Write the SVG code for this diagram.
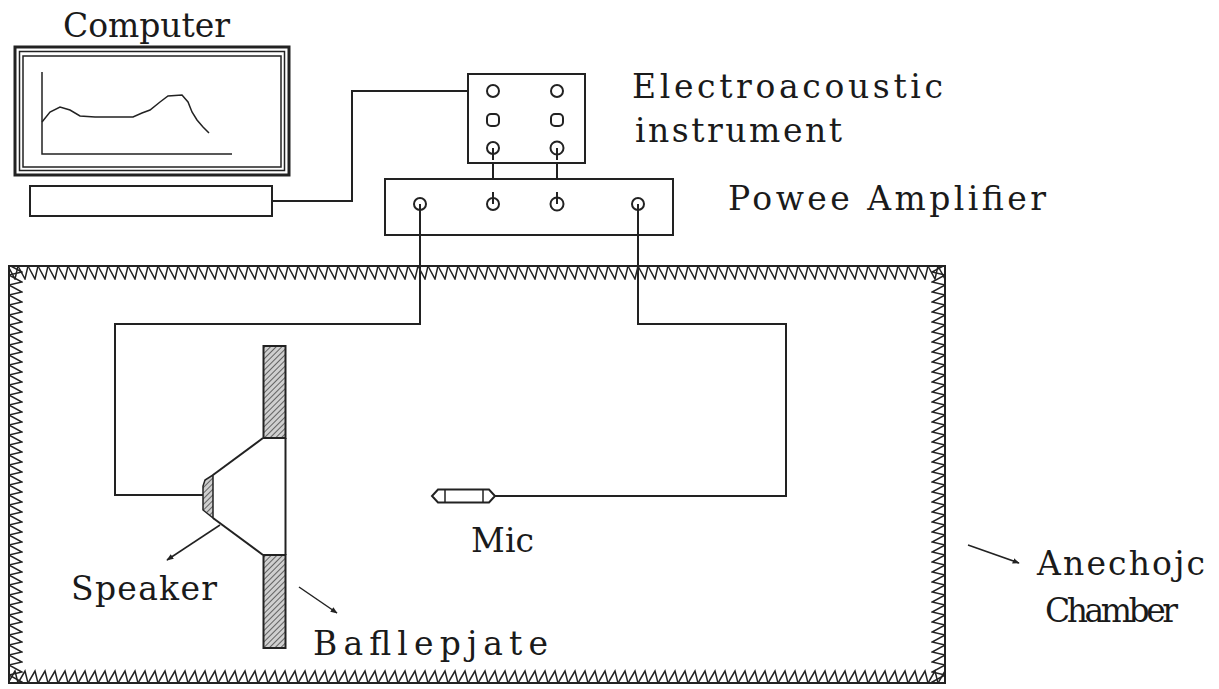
<svg xmlns="http://www.w3.org/2000/svg" width="1219" height="689" viewBox="0 0 1219 689">
<style>
.ln{fill:none;stroke:#222;stroke-width:2}
.thin{fill:none;stroke:#222;stroke-width:1.5}
.box{fill:#fff;stroke:#222;stroke-width:2}
.sock{fill:#fff;stroke:#222;stroke-width:2}
.txt{font-family:"DejaVu Serif","Liberation Serif",serif;font-size:33px;fill:#1a1a1a}
.hatch{fill:url(#hatch);stroke:#222;stroke-width:2}
</style>
<defs>
<pattern id="hatch" patternUnits="userSpaceOnUse" width="4" height="4" patternTransform="rotate(45)">
<rect width="4" height="4" fill="#cfcfcf"/>
<line x1="0" y1="0" x2="0" y2="4" stroke="#333" stroke-width="1.4"/>
</pattern>
<pattern id="tTop" patternUnits="userSpaceOnUse" x="8" y="265" width="10" height="15">
<path d="M0,1 L7,14 L10,1" fill="none" stroke="#222" stroke-width="1.5"/>
</pattern>
<pattern id="tBot" patternUnits="userSpaceOnUse" x="8" y="669" width="10" height="15">
<path d="M0,14 L7,2 L10,14" fill="none" stroke="#222" stroke-width="1.5"/>
</pattern>
<pattern id="tLeft" patternUnits="userSpaceOnUse" x="8" y="265" width="15" height="10">
<path d="M1,0 L14,7 L1,10" fill="none" stroke="#222" stroke-width="1.5"/>
</pattern>
<pattern id="tRight" patternUnits="userSpaceOnUse" x="931" y="265" width="15" height="10">
<path d="M14,0 L1,7 L14,10" fill="none" stroke="#222" stroke-width="1.5"/>
</pattern>
<marker id="arr" viewBox="0 0 10 10" refX="9" refY="5" markerWidth="7" markerHeight="7" orient="auto" markerUnits="userSpaceOnUse">
<path d="M0,1 L10,5 L0,9 Z" fill="#222"/>
</marker>
</defs>
<rect width="1219" height="689" fill="#fff"/>

<g id="chamber">
<rect x="8" y="265" width="937" height="15" fill="url(#tTop)"/>
<rect x="8" y="669" width="937" height="15" fill="url(#tBot)"/>
<rect x="8" y="265" width="15" height="419" fill="url(#tLeft)"/>
<rect x="931" y="265" width="15" height="419" fill="url(#tRight)"/>
<rect x="9" y="266" width="936" height="417" class="ln"/>
</g>

<g id="connectors">
<polyline class="ln" points="272,201 352,201 352,91 493,91"/>
<line class="ln" x1="493" y1="148" x2="493" y2="204"/>
<line class="ln" x1="557" y1="148" x2="557" y2="204"/>
<polyline class="ln" points="420,204 420,324 115,324 115,495 204,495"/>
<polyline class="ln" points="638,204 638,324 786,324 786,496 495,496"/>
</g>

<g id="computer">
<rect x="15" y="47" width="274" height="128" fill="#fff" stroke="#222" stroke-width="3"/>
<rect x="19.5" y="51.5" width="265" height="119" class="thin"/>
<rect x="23" y="56" width="258" height="111" class="thin"/>
<polyline class="thin" points="42,72 42,154 232,154"/>
<polyline class="thin" points="42,122 50,112 60,107 70,110 80,116 95,117 133,117 142,113 150,110 160,102 168,96 182,95 188,102 192,112 197,120 203,127 209,133"/>
<rect x="30" y="186" width="242" height="30" class="box"/>
<text class="txt" x="63" y="37" textLength="167" lengthAdjust="spacing">Computer</text>
</g>

<g id="instrument">
<rect x="468" y="74" width="117" height="89" class="box"/>
<circle class="sock" cx="493" cy="91" r="6"/>
<circle class="sock" cx="557" cy="91" r="6"/>
<rect class="sock" x="487" y="114" width="12" height="12" rx="4"/>
<rect class="sock" x="551" y="114" width="12" height="12" rx="4"/>
<circle class="sock" cx="493" cy="148" r="6"/>
<circle class="sock" cx="557" cy="148" r="6.5" stroke-width="2.5"/>
<line class="ln" x1="493" y1="148" x2="493" y2="160"/>
<line class="ln" x1="557" y1="148" x2="557" y2="160"/>
<text class="txt" x="632" y="98" textLength="311" lengthAdjust="spacing">Electroacoustic</text>
<text class="txt" x="635" y="142" textLength="207" lengthAdjust="spacing">instrument</text>
</g>

<g id="amplifier">
<rect x="385" y="179" width="288" height="56" class="box"/>
<circle class="sock" cx="420" cy="204" r="6"/>
<circle class="sock" cx="493" cy="204" r="6"/>
<circle class="sock" cx="557" cy="204" r="6.5" stroke-width="2.5"/>
<circle class="sock" cx="638" cy="204" r="6"/>
<line class="ln" x1="420" y1="204" x2="420" y2="235"/>
<line class="ln" x1="638" y1="204" x2="638" y2="235"/>
<line class="ln" x1="493" y1="192" x2="493" y2="204"/>
<line class="ln" x1="557" y1="192" x2="557" y2="204"/>
<text class="txt" x="728" y="210" textLength="318" lengthAdjust="spacing">Powee Amplifier</text>
</g>

<g id="speaker">
<rect x="263.5" y="346" width="22" height="92" class="hatch"/>
<rect x="263.5" y="555" width="22" height="93" class="hatch"/>
<line class="ln" x1="285.5" y1="438" x2="285.5" y2="555"/>
<line class="ln" x1="263" y1="438" x2="213" y2="475"/>
<line class="ln" x1="213" y1="518" x2="263" y2="555"/>
<polygon points="213,475 205,480 203,486 203,510 213,518" fill="url(#hatch)" stroke="#222" stroke-width="1.5"/>
<line class="thin" x1="220" y1="525" x2="167" y2="560" marker-end="url(#arr)"/>
<text class="txt" x="71" y="600" textLength="146" lengthAdjust="spacing">Speaker</text>
<line class="thin" x1="299" y1="587" x2="337" y2="613" marker-end="url(#arr)"/>
<text class="txt" x="313" y="655" textLength="235" lengthAdjust="spacing">Bafllepjate</text>
</g>

<g id="mic">
<path d="M438,489.5 L489,489.5 L495,496 L489,502.5 L438,502.5 L432,496 Z" class="sock" stroke-width="1.8"/>
<line class="thin" x1="445" y1="489.5" x2="445" y2="502.5"/>
<line class="thin" x1="483" y1="489.5" x2="483" y2="502.5"/>
<text class="txt" x="471" y="552" textLength="63" lengthAdjust="spacing">Mic</text>
</g>

<g id="label-chamber">
<line class="thin" x1="968" y1="545" x2="1019" y2="563" marker-end="url(#arr)"/>
<text class="txt" x="1037" y="575" textLength="168" lengthAdjust="spacing">Anechojc</text>
<text class="txt" x="1045" y="622" textLength="133" lengthAdjust="spacing">Chamber</text>
</g>
</svg>
